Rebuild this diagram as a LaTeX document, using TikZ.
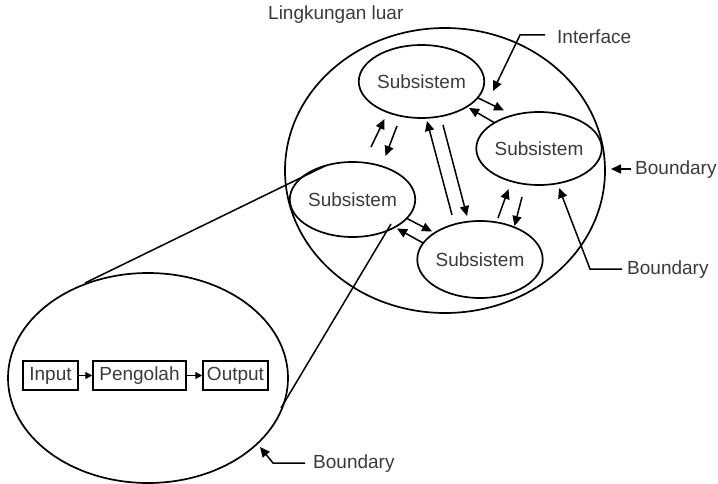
\documentclass[tikz,border=0pt]{standalone}
\usepackage{fontspec}
\setmainfont{Liberation Sans}
\usetikzlibrary{shapes.geometric,arrows.meta}
\definecolor{txt}{HTML}{3A3A3A}
\begin{document}
\begin{tikzpicture}[x=1pt,y=-1pt,
  lbl/.style={font=\fontsize{19}{21}\selectfont,text=txt,inner sep=0pt},
  sub/.style={ellipse,draw,line width=1.7pt,inner sep=0pt,font=\fontsize{19}{21}\selectfont,text=txt},
  ar/.style={line width=1.5pt,-{Triangle[length=10pt,width=9pt]}},
  sar/.style={line width=1.3pt,-{Triangle[length=7pt,width=7pt]}},
  bx/.style={draw,line width=1.5pt,inner sep=0pt,minimum height=29pt,font=\fontsize{19}{21}\selectfont,text=txt}]
\useasboundingbox (0,0) rectangle (718,484);
% big ellipse and zoom ellipse
\node[ellipse,draw,line width=1.7pt,minimum width=320pt,minimum height=285pt,inner sep=0pt] (env) at (445,170.5) {};
\node[ellipse,draw,line width=1.7pt,minimum width=280pt,minimum height=210pt,inner sep=0pt] (zoom) at (148,378) {};
% subsystems
\node[sub,minimum width=99pt,minimum height=73pt] (s1) at (421.5,81.5) {Subsistem};
\node[sub,minimum width=102pt,minimum height=73pt] (s2) at (539,148.5) {Subsistem};
\node[sub,minimum width=101pt,minimum height=75pt] (s3) at (352.5,199.5) {Subsistem};
\node[sub,minimum width=102pt,minimum height=77pt] (s4) at (480,259.5) {Subsistem};
% tangent lines
\coordinate (t1a) at (85,283); \coordinate (t1b) at (326,165.5);
\coordinate (t2a) at (391,224); \coordinate (t2b) at (281,408);
\draw[line width=1.5pt] (t1a) -- (t1b);
\draw[line width=1.5pt] (t2a) -- (t2b);
% arrows between subsystems
\coordinate (a1t) at (371,147); \coordinate (a1h) at (384.5,119);
\coordinate (a2t) at (397,126); \coordinate (a2h) at (385.5,156);
\draw[ar] (a1t) -- (a1h);
\draw[ar] (a2t) -- (a2h);
\coordinate (b1t) at (478,98); \coordinate (b1h) at (504,110.5);
\coordinate (b2t) at (495,123); \coordinate (b2h) at (469,108);
\draw[ar] (b1t) -- (b1h);
\draw[ar] (b2t) -- (b2h);
\coordinate (c1t) at (452,215); \coordinate (c1h) at (427,121);
\coordinate (c2t) at (443,125); \coordinate (c2h) at (467,216);
\draw[ar] (c1t) -- (c1h);
\draw[ar] (c2t) -- (c2h);
\coordinate (d1t) at (498,218); \coordinate (d1h) at (508.5,189);
\coordinate (d2t) at (522,197); \coordinate (d2h) at (514.5,226);
\draw[ar] (d1t) -- (d1h);
\draw[ar] (d2t) -- (d2h);
\coordinate (e1t) at (406,218); \coordinate (e1h) at (432,231.5);
\coordinate (e2t) at (423,243); \coordinate (e2h) at (397,228.5);
\draw[ar] (e1t) -- (e1h);
\draw[ar] (e2t) -- (e2h);
% labels
\node[lbl,anchor=west] (lk) at (268,15) {Lingkungan luar};
\node[lbl,anchor=west] (intf) at (557,37) {Interface};
\node[lbl,anchor=west] (bd1) at (635,170) {Boundary};
\node[lbl,anchor=west] (bd2) at (627,270) {Boundary};
\node[lbl,anchor=west] (bd3) at (313,464) {Boundary};
% label arrows
\coordinate (i1) at (520,35); \coordinate (i2) at (493,91);
\draw[ar] (intf.west) ++(-12,-2) -- (i1) -- (i2);
\coordinate (r1) at (611,169);
\draw[ar] (bd1.west) ++(-4,-1) -- (r1);
\coordinate (q1) at (590,269); \coordinate (q2) at (559,188);
\draw[ar] (bd2.west) ++(-5,-1) -- (q1) -- (q2);
\coordinate (p1) at (273,463); \coordinate (p2) at (260,447);
\draw[ar] (bd3.west) ++(-8,-1) -- (p1) -- (p2);
% process boxes
\node[bx,minimum width=55pt] (in) at (50.5,375.5) {Input};
\node[bx,minimum width=93pt] (pg) at (139.5,375.5) {Pengolah};
\node[bx,minimum width=65pt] (out) at (235.5,375.5) {Output};
\draw[sar] (in) -- (pg);
\draw[sar] (pg) -- (out);
\end{tikzpicture}
\end{document}
